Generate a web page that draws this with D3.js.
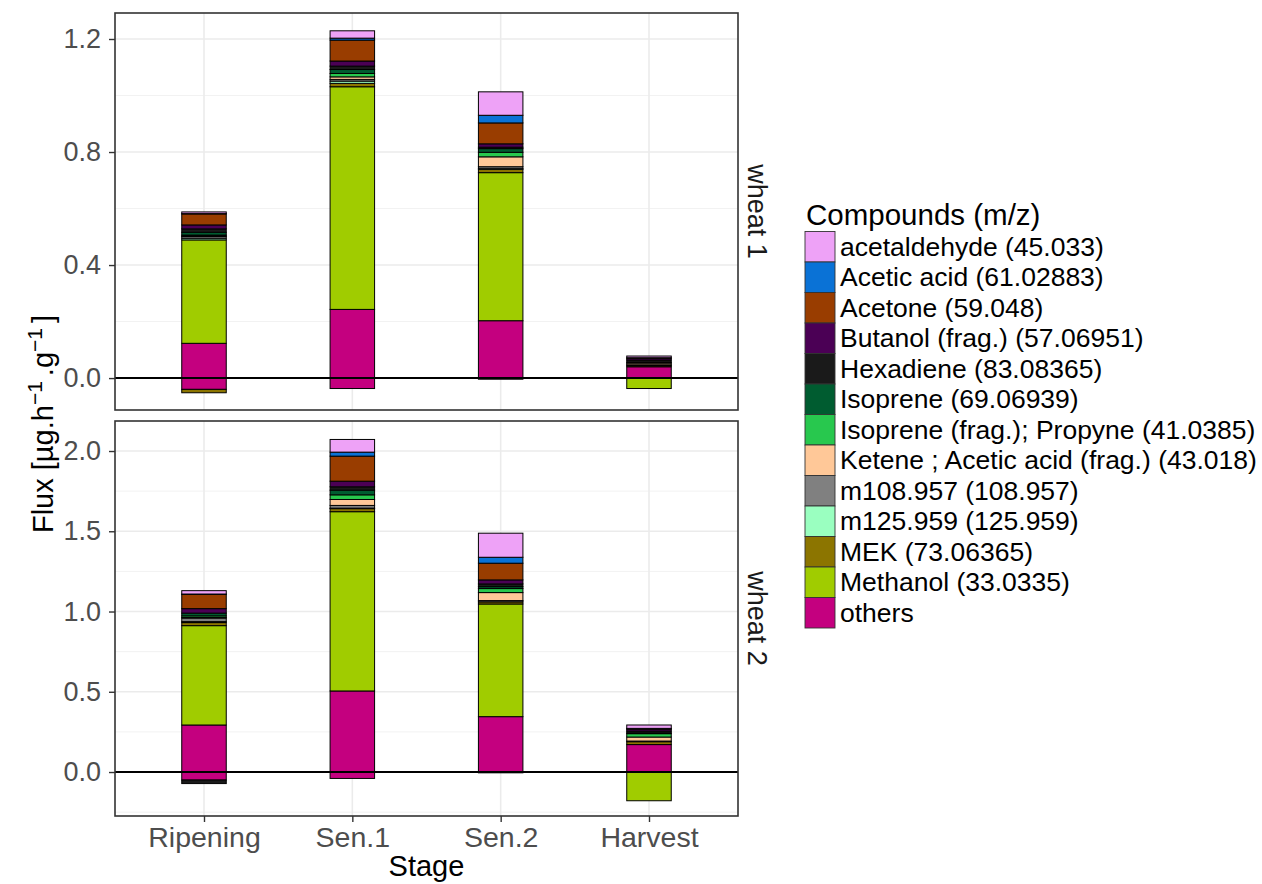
<!DOCTYPE html>
<html>
<head>
<meta charset="utf-8">
<script src="https://cdn.jsdelivr.net/npm/d3@7"></script>
<style>
  body { margin: 0; background: #fff; }
  svg { display: block; font-family: "Liberation Sans", Arial, sans-serif; }
</style>
</head>
<body>
<svg id="chart" width="1262" height="884"></svg>
<script>
// ---------------- data ----------------
const stages = ["Ripening", "Sen.1", "Sen.2", "Harvest"];
const panels = ["wheat 1", "wheat 2"];
const compounds = [
  "acetaldehyde (45.033)",
  "Acetic acid (61.02883)",
  "Acetone (59.048)",
  "Butanol (frag.) (57.06951)",
  "Hexadiene (83.08365)",
  "Isoprene (69.06939)",
  "Isoprene (frag.); Propyne (41.0385)",
  "Ketene ; Acetic acid (frag.) (43.018)",
  "m108.957 (108.957)",
  "m125.959 (125.959)",
  "MEK (73.06365)",
  "Methanol (33.0335)",
  "others"
];
const colors = [
  "#EEA2F7", "#0A72D6", "#993D00", "#4B0055", "#1A1A1A", "#005C30",
  "#28C84E", "#FFC898", "#808080", "#9AFFC0", "#8C7500", "#A0CC00", "#C4007F"
];
const yTicks1 = [0.0, 0.4, 0.8, 1.2];
const yTicks2 = [0.0, 0.5, 1.0, 1.5, 2.0];
const yMinor1 = [0.2, 0.6, 1.0];
const yMinor2 = [-0.25, 0.25, 0.75, 1.25, 1.75];

// rows follow `compounds`; columns follow `stages` (positive contributions)
const wheat1Pos = [
  [0.006, 0.026, 0.083, 0.006],
  [0.001, 0.007, 0.027, 0.000],
  [0.039, 0.074, 0.074, 0.002],
  [0.014, 0.018, 0.012, 0.006],
  [0.012, 0.012, 0.005, 0.008],
  [0.010, 0.014, 0.013, 0.003],
  [0.003, 0.012, 0.016, 0.000],
  [0.002, 0.009, 0.035, 0.006],
  [0.006, 0.006, 0.007, 0.003],
  [0.006, 0.008, 0.002, 0.000],
  [0.000, 0.012, 0.012, 0.004],
  [0.366, 0.788, 0.524, 0.000],
  [0.123, 0.243, 0.203, 0.040]
];
// negative contributions
const wheat1Neg = [
  [0, 0, 0, 0], [0, 0, 0, 0], [0, 0, 0, 0], [0, 0, 0, 0], [0, 0, 0, 0],
  [0, 0, 0, 0], [0, 0, 0, 0], [0, 0, 0, 0], [0, 0, 0, 0], [0, 0, 0, 0],
  [-0.012, 0, 0, 0],
  [0, 0, 0, -0.037],
  [-0.040, -0.037, -0.004, 0]
];
const wheat2Pos = [
  [0.021, 0.079, 0.150, 0.021],
  [0.002, 0.025, 0.037, 0.002],
  [0.089, 0.156, 0.104, 0.003],
  [0.028, 0.035, 0.025, 0.012],
  [0.000, 0.021, 0.017, 0.012],
  [0.017, 0.029, 0.012, 0.004],
  [0.010, 0.029, 0.025, 0.021],
  [0.004, 0.037, 0.050, 0.025],
  [0.022, 0.017, 0.008, 0.004],
  [0.006, 0.003, 0.000, 0.000],
  [0.019, 0.019, 0.013, 0.018],
  [0.619, 1.117, 0.702, 0.000],
  [0.293, 0.505, 0.345, 0.171]
];
const wheat2Neg = [
  [0, 0, 0, 0], [0, 0, 0, 0], [0, 0, 0, 0], [0, 0, 0, 0],
  [-0.022, 0, 0, 0],
  [0, 0, 0, 0], [0, 0, 0, 0], [0, 0, 0, 0], [0, 0, 0, 0], [0, 0, 0, 0], [0, 0, 0, 0],
  [0, 0, 0, -0.179],
  [-0.050, -0.040, -0.005, 0]
];
const yDomain1 = [-0.113, 1.292];
const yDomain2 = [-0.274, 2.187];

// ---------------- layout ----------------
const svg = d3.select("#chart");
const left = 115, right = 738;
const panelBoxes = [
  { top: 13, bottom: 410, domain: yDomain1, ticks: yTicks1, minor: yMinor1, pos: wheat1Pos, neg: wheat1Neg },
  { top: 421, bottom: 816, domain: yDomain2, ticks: yTicks2, minor: yMinor2, pos: wheat2Pos, neg: wheat2Neg }
];

const x = d3.scalePoint().domain(stages).range([left, right]).padding(0.6);
const barW = x.step() * 0.3;
const color = d3.scaleOrdinal().domain(compounds).range(colors);

// stacking order: ggplot puts the first level on top -> stack keys reversed
const stackKeys = compounds.slice().reverse();
function rowsFrom(mat) {
  return stages.map((s, j) => {
    const r = { stage: s };
    compounds.forEach((c, i) => { r[c] = mat[i][j]; });
    return r;
  });
}
const stacker = d3.stack().keys(stackKeys).offset(d3.stackOffsetDiverging);

panelBoxes.forEach((p, pi) => {
  const y = d3.scaleLinear().domain(p.domain).range([p.bottom, p.top]);
  const g = svg.append("g");

  g.append("rect").attr("x", left).attr("y", p.top)
    .attr("width", right - left).attr("height", p.bottom - p.top).attr("fill", "#fff");

  // grid
  g.selectAll(".minor").data(p.minor).join("line")
    .attr("x1", left).attr("x2", right)
    .attr("y1", d => y(d)).attr("y2", d => y(d))
    .attr("stroke", "#F2F2F2").attr("stroke-width", 1);
  g.selectAll(".major").data(p.ticks).join("line")
    .attr("x1", left).attr("x2", right)
    .attr("y1", d => y(d)).attr("y2", d => y(d))
    .attr("stroke", "#EBEBEB").attr("stroke-width", 1.6);
  g.selectAll(".vmajor").data(stages).join("line")
    .attr("x1", d => x(d)).attr("x2", d => x(d))
    .attr("y1", p.top).attr("y2", p.bottom)
    .attr("stroke", "#EBEBEB").attr("stroke-width", 1.6);

  // bars
  [p.pos, p.neg].forEach(mat => {
    const series = stacker(rowsFrom(mat));
    series.forEach(s => {
      g.append("g").selectAll("rect")
        .data(s.filter(d => d[1] - d[0] !== 0))
        .join("rect")
        .attr("x", d => x(d.data.stage) - barW / 2)
        .attr("width", barW)
        .attr("y", d => y(Math.max(d[0], d[1])))
        .attr("height", d => Math.abs(y(d[0]) - y(d[1])))
        .attr("fill", color(s.key))
        .attr("stroke", "#000")
        .attr("stroke-width", 1);
    });
  });

  // zero line
  g.append("line").attr("x1", left).attr("x2", right)
    .attr("y1", y(0)).attr("y2", y(0))
    .attr("stroke", "#000").attr("stroke-width", 2);

  // border
  g.append("rect").attr("x", left).attr("y", p.top)
    .attr("width", right - left).attr("height", p.bottom - p.top)
    .attr("fill", "none").attr("stroke", "#333").attr("stroke-width", 1.6);

  // y axis
  const ay = d3.axisLeft(y).tickValues(p.ticks).tickFormat(d3.format(".1f")).tickSize(6).tickPadding(8);
  const axg = svg.append("g").attr("transform", `translate(${left},0)`).call(ay);
  axg.select(".domain").remove();
  axg.selectAll(".tick line").attr("stroke", "#333").attr("stroke-width", 1.4);
  axg.selectAll(".tick text").attr("fill", "#4D4D4D")
    .style("font-size", "27px").style("font-family", "Liberation Sans, Arial, sans-serif");

  // strip label
  const cy = (p.top + p.bottom) / 2;
  svg.append("text")
    .attr("transform", `translate(757,${cy}) rotate(90)`)
    .attr("text-anchor", "middle")
    .attr("dominant-baseline", "central")
    .attr("fill", "#1A1A1A")
    .style("font-size", "27px")
    .text(panels[pi]);

  // x axis on bottom panel
  if (pi === 1) {
    const ax = d3.axisBottom(x).tickSize(6).tickPadding(5);
    const axx = svg.append("g").attr("transform", `translate(0,${p.bottom})`).call(ax);
    axx.select(".domain").remove();
    axx.selectAll(".tick line").attr("stroke", "#333").attr("stroke-width", 1.4);
    axx.selectAll(".tick text").attr("fill", "#4D4D4D")
      .style("font-size", "28.5px").style("font-family", "Liberation Sans, Arial, sans-serif");
  }
});

// axis titles
svg.append("text")
  .attr("x", (left + right) / 2).attr("y", 876)
  .attr("text-anchor", "middle")
  .style("font-size", "29px").attr("fill", "#000")
  .text("Stage");

const yt = svg.append("text")
  .attr("transform", "translate(53,424) rotate(-90)")
  .attr("text-anchor", "middle")
  .style("font-size", "29px").attr("fill", "#000");
yt.append("tspan").text("Flux [µg.h");
yt.append("tspan").attr("dy", -11).style("font-size", "21px").text("−1");
yt.append("tspan").attr("dy", 11).attr("dx", 5).text(".g");
yt.append("tspan").attr("dy", -11).style("font-size", "21px").text("−1");
yt.append("tspan").attr("dy", 11).attr("dx", 5).text("]");

// legend
const lg = svg.append("g").attr("transform", "translate(805,0)");
lg.append("text").attr("x", 1).attr("y", 225)
  .style("font-size", "29.5px").attr("fill", "#000").text("Compounds (m/z)");
const keyH = 30.5, keyTop = 231.5;
compounds.forEach((c, i) => {
  const yy = keyTop + i * keyH;
  lg.append("rect").attr("x", 0).attr("y", yy).attr("width", 30).attr("height", keyH)
    .attr("fill", color(c)).attr("stroke", "#333").attr("stroke-width", 0.9);
  lg.append("text").attr("x", 35).attr("y", yy + keyH / 2)
    .attr("dominant-baseline", "central")
    .style("font-size", "26.5px").attr("fill", "#000").text(c);
});
</script>
</body>
</html>
